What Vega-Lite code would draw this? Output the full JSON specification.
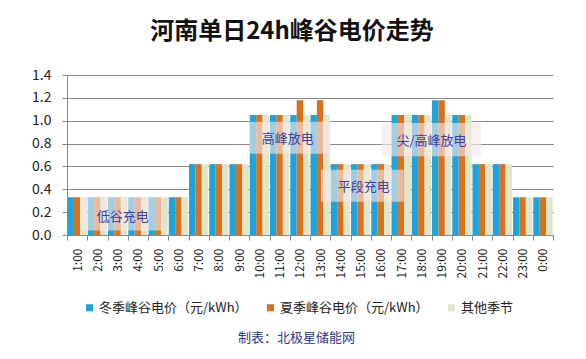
{
  "$schema": "https://vega.github.io/schema/vega-lite/v6.json",
  "autosize": {"type": "none"},
  "width": 486,
  "height": 160,
  "padding": {"left": 67, "top": 75, "right": 33, "bottom": 124},
  "background": "white",
  "config": {
    "font": "Noto Sans CJK SC",
    "view": {"stroke": null}
  },
  "title": {
    "text": "河南单日24h峰谷电价走势",
    "fontSize": 24,
    "fontWeight": "bold",
    "color": "#111111",
    "anchor": "middle",
    "frame": "group",
    "dx": -18,
    "offset": 24
  },
  "datasets": {
    "prices": [
      {"hour": "1:00", "series": "冬季峰谷电价（元/kWh）", "value": 0.33},
      {"hour": "1:00", "series": "夏季峰谷电价（元/kWh）", "value": 0.33},
      {"hour": "1:00", "series": "其他季节", "value": 0.33},
      {"hour": "2:00", "series": "冬季峰谷电价（元/kWh）", "value": 0.33},
      {"hour": "2:00", "series": "夏季峰谷电价（元/kWh）", "value": 0.33},
      {"hour": "2:00", "series": "其他季节", "value": 0.33},
      {"hour": "3:00", "series": "冬季峰谷电价（元/kWh）", "value": 0.33},
      {"hour": "3:00", "series": "夏季峰谷电价（元/kWh）", "value": 0.33},
      {"hour": "3:00", "series": "其他季节", "value": 0.33},
      {"hour": "4:00", "series": "冬季峰谷电价（元/kWh）", "value": 0.33},
      {"hour": "4:00", "series": "夏季峰谷电价（元/kWh）", "value": 0.33},
      {"hour": "4:00", "series": "其他季节", "value": 0.33},
      {"hour": "5:00", "series": "冬季峰谷电价（元/kWh）", "value": 0.33},
      {"hour": "5:00", "series": "夏季峰谷电价（元/kWh）", "value": 0.33},
      {"hour": "5:00", "series": "其他季节", "value": 0.33},
      {"hour": "6:00", "series": "冬季峰谷电价（元/kWh）", "value": 0.33},
      {"hour": "6:00", "series": "夏季峰谷电价（元/kWh）", "value": 0.33},
      {"hour": "6:00", "series": "其他季节", "value": 0.33},
      {"hour": "7:00", "series": "冬季峰谷电价（元/kWh）", "value": 0.62},
      {"hour": "7:00", "series": "夏季峰谷电价（元/kWh）", "value": 0.62},
      {"hour": "7:00", "series": "其他季节", "value": 0.62},
      {"hour": "8:00", "series": "冬季峰谷电价（元/kWh）", "value": 0.62},
      {"hour": "8:00", "series": "夏季峰谷电价（元/kWh）", "value": 0.62},
      {"hour": "8:00", "series": "其他季节", "value": 0.62},
      {"hour": "9:00", "series": "冬季峰谷电价（元/kWh）", "value": 0.62},
      {"hour": "9:00", "series": "夏季峰谷电价（元/kWh）", "value": 0.62},
      {"hour": "9:00", "series": "其他季节", "value": 0.62},
      {"hour": "10:00", "series": "冬季峰谷电价（元/kWh）", "value": 1.05},
      {"hour": "10:00", "series": "夏季峰谷电价（元/kWh）", "value": 1.05},
      {"hour": "10:00", "series": "其他季节", "value": 1.05},
      {"hour": "11:00", "series": "冬季峰谷电价（元/kWh）", "value": 1.05},
      {"hour": "11:00", "series": "夏季峰谷电价（元/kWh）", "value": 1.05},
      {"hour": "11:00", "series": "其他季节", "value": 1.05},
      {"hour": "12:00", "series": "冬季峰谷电价（元/kWh）", "value": 1.05},
      {"hour": "12:00", "series": "夏季峰谷电价（元/kWh）", "value": 1.18},
      {"hour": "12:00", "series": "其他季节", "value": 1.05},
      {"hour": "13:00", "series": "冬季峰谷电价（元/kWh）", "value": 1.05},
      {"hour": "13:00", "series": "夏季峰谷电价（元/kWh）", "value": 1.18},
      {"hour": "13:00", "series": "其他季节", "value": 1.05},
      {"hour": "14:00", "series": "冬季峰谷电价（元/kWh）", "value": 0.62},
      {"hour": "14:00", "series": "夏季峰谷电价（元/kWh）", "value": 0.62},
      {"hour": "14:00", "series": "其他季节", "value": 0.62},
      {"hour": "15:00", "series": "冬季峰谷电价（元/kWh）", "value": 0.62},
      {"hour": "15:00", "series": "夏季峰谷电价（元/kWh）", "value": 0.62},
      {"hour": "15:00", "series": "其他季节", "value": 0.62},
      {"hour": "16:00", "series": "冬季峰谷电价（元/kWh）", "value": 0.62},
      {"hour": "16:00", "series": "夏季峰谷电价（元/kWh）", "value": 0.62},
      {"hour": "16:00", "series": "其他季节", "value": 0.62},
      {"hour": "17:00", "series": "冬季峰谷电价（元/kWh）", "value": 1.05},
      {"hour": "17:00", "series": "夏季峰谷电价（元/kWh）", "value": 1.05},
      {"hour": "17:00", "series": "其他季节", "value": 1.05},
      {"hour": "18:00", "series": "冬季峰谷电价（元/kWh）", "value": 1.05},
      {"hour": "18:00", "series": "夏季峰谷电价（元/kWh）", "value": 1.05},
      {"hour": "18:00", "series": "其他季节", "value": 1.05},
      {"hour": "19:00", "series": "冬季峰谷电价（元/kWh）", "value": 1.18},
      {"hour": "19:00", "series": "夏季峰谷电价（元/kWh）", "value": 1.18},
      {"hour": "19:00", "series": "其他季节", "value": 1.05},
      {"hour": "20:00", "series": "冬季峰谷电价（元/kWh）", "value": 1.05},
      {"hour": "20:00", "series": "夏季峰谷电价（元/kWh）", "value": 1.05},
      {"hour": "20:00", "series": "其他季节", "value": 1.05},
      {"hour": "21:00", "series": "冬季峰谷电价（元/kWh）", "value": 0.62},
      {"hour": "21:00", "series": "夏季峰谷电价（元/kWh）", "value": 0.62},
      {"hour": "21:00", "series": "其他季节", "value": 0.62},
      {"hour": "22:00", "series": "冬季峰谷电价（元/kWh）", "value": 0.62},
      {"hour": "22:00", "series": "夏季峰谷电价（元/kWh）", "value": 0.62},
      {"hour": "22:00", "series": "其他季节", "value": 0.62},
      {"hour": "23:00", "series": "冬季峰谷电价（元/kWh）", "value": 0.33},
      {"hour": "23:00", "series": "夏季峰谷电价（元/kWh）", "value": 0.33},
      {"hour": "23:00", "series": "其他季节", "value": 0.33},
      {"hour": "0:00", "series": "冬季峰谷电价（元/kWh）", "value": 0.33},
      {"hour": "0:00", "series": "夏季峰谷电价（元/kWh）", "value": 0.33},
      {"hour": "0:00", "series": "其他季节", "value": 0.33}
    ],
    "notes": [
      {"label": "低谷充电", "x0": 0.64, "x1": 4.72, "y0": 0.04, "y1": 0.335, "tx": 2.75, "ty": 0.16},
      {"label": "高峰放电", "x0": 9.0, "x1": 13.03, "y0": 0.71, "y1": 0.99, "tx": 10.9, "ty": 0.84},
      {"label": "平段充电", "x0": 12.54, "x1": 16.63, "y0": 0.29, "y1": 0.57, "tx": 14.65, "ty": 0.42},
      {"label": "尖/高峰放电", "x0": 15.54, "x1": 20.46, "y0": 0.69, "y1": 0.98, "tx": 18.0, "ty": 0.82}
    ]
  },
  "layer": [
    {
      "data": {"name": "prices"},
      "mark": {"type": "bar"},
      "encoding": {
        "x": {
          "field": "hour",
          "type": "nominal",
          "sort": null,
          "scale": {"paddingInner": 0, "paddingOuter": 0},
          "axis": {
            "title": "制表：北极星储能网",
            "titleFontSize": 13,
            "titleFontWeight": "normal",
            "titleColor": "#2e3a8c",
            "titleY": 96,
            "titleX": 229,
            "labelAngle": -90,
            "labelFontSize": 12,
            "labelColor": "#222222",
            "labelPadding": 8,
            "tickBand": "extent",
            "tickSize": 5,
            "tickColor": "#888888",
            "domainColor": "#888888"
          }
        },
        "xOffset": {
          "field": "series",
          "type": "nominal",
          "sort": ["冬季峰谷电价（元/kWh）", "夏季峰谷电价（元/kWh）", "其他季节"],
          "scale": {"paddingInner": 0, "paddingOuter": 0.08}
        },
        "y": {
          "field": "value",
          "type": "quantitative",
          "scale": {"domain": [0, 1.4], "nice": false},
          "axis": {
            "title": null,
            "values": [0, 0.2, 0.4, 0.6, 0.8, 1.0, 1.2, 1.4],
            "tickCount": 8,
            "format": ".1f",
            "labelOverlap": false,
            "labelFlush": false,
            "labelFontSize": 14,
            "labelColor": "#222222",
            "gridColor": "#8a8a8a",
            "gridWidth": 1,
            "domainColor": "#888888",
            "tickColor": "#888888",
            "tickSize": 5,
            "labelPadding": 11
          }
        },
        "color": {
          "field": "series",
          "type": "nominal",
          "sort": ["冬季峰谷电价（元/kWh）", "夏季峰谷电价（元/kWh）", "其他季节"],
          "scale": {
            "domain": ["冬季峰谷电价（元/kWh）", "夏季峰谷电价（元/kWh）", "其他季节"],
            "range": ["#1ea3dc", "#d9721c", "#dfe6cc"]
          },
          "legend": {
            "title": null,
            "orient": "none",
            "direction": "horizontal",
            "legendX": 16,
            "legendY": 226,
            "symbolType": "square",
            "symbolSize": 50,
            "symbolStrokeWidth": 0,
            "labelFontSize": 13,
            "labelColor": "#222222",
            "columnPadding": 16,
            "labelOffset": 3
          }
        }
      }
    },
    {
      "data": {"name": "notes"},
      "mark": {"type": "rect", "fill": "#f4e8e8", "opacity": 0.62},
      "encoding": {
        "x": {"field": "x0", "type": "quantitative", "scale": {"domain": [0, 24], "nice": false, "zero": false}, "axis": null},
        "x2": {"field": "x1"},
        "y": {"field": "y0", "type": "quantitative", "axis": {"title": null, "values": [0, 0.2, 0.4, 0.6, 0.8, 1.0, 1.2, 1.4], "tickCount": 8}},
        "y2": {"field": "y1"}
      }
    },
    {
      "data": {"name": "notes"},
      "mark": {"type": "text", "fontSize": 13, "color": "#3a3aa8", "align": "center", "baseline": "middle"},
      "encoding": {
        "x": {"field": "tx", "type": "quantitative", "scale": {"domain": [0, 24], "nice": false, "zero": false}, "axis": null},
        "y": {"field": "ty", "type": "quantitative", "axis": {"title": null, "values": [0, 0.2, 0.4, 0.6, 0.8, 1.0, 1.2, 1.4], "tickCount": 8}},
        "text": {"field": "label"}
      }
    }
  ],
  "resolve": {"scale": {"x": "independent"}, "axis": {"x": "independent"}}
}
